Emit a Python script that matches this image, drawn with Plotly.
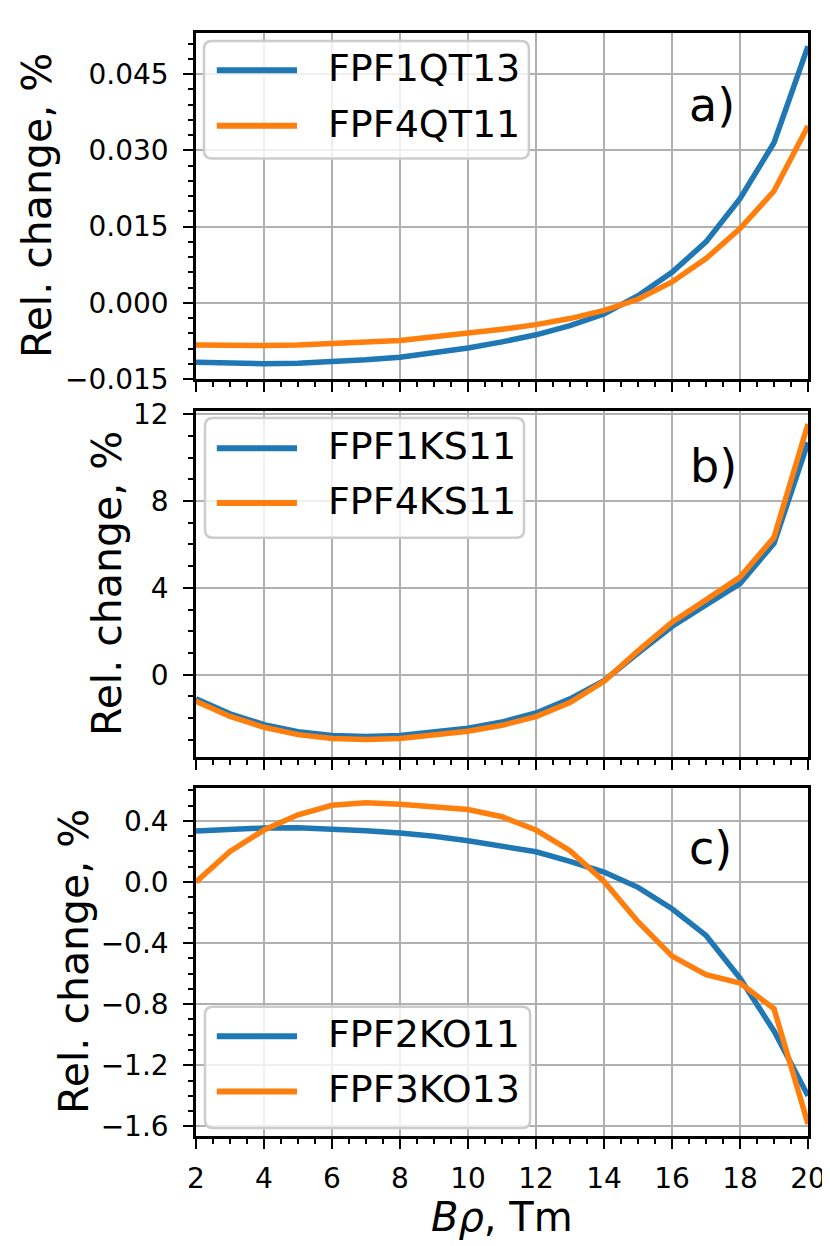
import plotly.graph_objects as go
from plotly.subplots import make_subplots

b_rho = [2, 3, 4, 5, 6, 7, 8, 9, 10, 11, 12, 13, 14, 15, 16, 17, 18, 19, 20]

# a) quadrupoles
fpf1qt13 = [-0.0117, -0.0119, -0.0120, -0.0119, -0.0116, -0.0112, -0.0107, -0.0099, -0.0089,
            -0.0077, -0.0063, -0.0045, -0.0022, 0.0014, 0.0060, 0.0120, 0.0205, 0.0315, 0.0505]
fpf4qt11 = [-0.0083, -0.0084, -0.0084, -0.0083, -0.0080, -0.0077, -0.0074, -0.0067, -0.0060,
            -0.0052, -0.0043, -0.0031, -0.0015, 0.0007, 0.0041, 0.0087, 0.0146, 0.0220, 0.0348]

# b) sextupoles
fpf1ks11 = [-1.11, -1.80, -2.30, -2.62, -2.80, -2.84, -2.80, -2.66, -2.46,
            -2.18, -1.76, -1.11, -0.27, 1.00, 2.22, 3.22, 4.20, 6.05, 10.7]
fpf4ks11 = [-1.22, -1.92, -2.42, -2.76, -2.94, -2.98, -2.94, -2.80, -2.60,
            -2.33, -1.93, -1.28, -0.30, 1.10, 2.42, 3.45, 4.50, 6.33, 11.55]

# c) octupoles
fpf2ko11 = [0.333, 0.346, 0.354, 0.355, 0.347, 0.336, 0.320, 0.300, 0.270,
            0.236, 0.198, 0.135, 0.065, -0.035, -0.175, -0.350, -0.630, -0.975, -1.40]
fpf3ko13 = [0.0, 0.200, 0.340, 0.440, 0.502, 0.518, 0.509, 0.494, 0.474,
            0.427, 0.340, 0.205, 0.003, -0.260, -0.485, -0.607, -0.661, -0.830, -1.585]

panels = [
    (["FPF1QT13", "FPF4QT11"], [fpf1qt13, fpf4qt11], "a)"),
    (["FPF1KS11", "FPF4KS11"], [fpf1ks11, fpf4ks11], "b)"),
    (["FPF2KO11", "FPF3KO13"], [fpf2ko11, fpf3ko13], "c)"),
]
colors = ["#1f77b4", "#ff7f0e"]
FONT = "DejaVu Sans"

fig = make_subplots(rows=3, cols=1, shared_xaxes=True)

for i, (names, series, label) in enumerate(panels):
    for name, vals, col in zip(names, series, colors):
        fig.add_trace(go.Scatter(x=b_rho, y=vals, name=name, mode="lines",
                                 line=dict(color=col, width=5.5), showlegend=False),
                      row=i + 1, col=1)

# domains in paper units (plot area 188..800 x 22..1128 px)
ydomains = [[0.6863, 1.0], [0.3436, 0.6573], [0.0, 0.3156]]
yranges = [[-0.0150, 0.0531], [-3.79, 12.15], [-1.663, 0.616]]
ydticks = [0.015, 4, 0.4]
yminor = [0.003, 1, 0.1]
yformats = [".3f", "d", ".1f"]
ytitle_shift = [-159, -89, -122]

axis_common = dict(showline=True, linecolor="black", linewidth=2.5, mirror=True,
                   showgrid=True, gridcolor="#b0b0b0", gridwidth=2, zeroline=False,
                   ticks="outside", ticklen=10, tickwidth=2, tickcolor="black",
                   tickfont=dict(family=FONT, size=28, color="black"))

for i in range(3):
    s = "" if i == 0 else str(i + 1)
    fig.layout["yaxis" + s].update(
        domain=ydomains[i], range=yranges[i], tick0=0, dtick=ydticks[i],
        tickformat=yformats[i], ticklabelstandoff=9,
        minor=dict(dtick=yminor[i], tick0=0, ticks="outside", ticklen=5, tickwidth=2,
                   tickcolor="black", showgrid=False),
        **axis_common)
    fig.layout["xaxis" + s].update(
        range=[2, 20], tick0=2, dtick=2, ticklabelstandoff=6,
        minor=dict(dtick=0.5, ticks="outside", ticklen=5, tickwidth=2,
                   tickcolor="black", showgrid=False),
        **axis_common)

    # y title
    fig.add_annotation(text="Rel. change, %", textangle=-90, xref="paper", x=0,
                       xshift=ytitle_shift[i], xanchor="center",
                       yref="y%s domain" % s, y=0.5, yanchor="middle", showarrow=False,
                       font=dict(family=FONT, size=41, color="black"))

fig.update_xaxes(showticklabels=False, row=1, col=1)
fig.update_xaxes(showticklabels=False, row=2, col=1)

# legend boxes and panel labels, placed in axis-domain units
leg_boxes = [(0.013, 0.544, 0.637, 0.977), (0.0147, 0.536, 0.634, 0.980),
             (0.0147, 0.546, 0.023, 0.371)]
leg_rows = [(0.8925, 0.732), (0.8925, 0.734), (0.2865, 0.128)]
label_pos = [(0.843, 0.7925), (0.845, 0.8415), (0.840, 0.8276)]

for i, (names, series, label) in enumerate(panels):
    s = "" if i == 0 else str(i + 1)
    xr, yr = "x%s domain" % s, "y%s domain" % s
    x0, x1, y0, y1 = leg_boxes[i]
    rx, ry = 8 / 612, 8 / 347
    path = ("M %f,%f L %f,%f Q %f,%f %f,%f L %f,%f Q %f,%f %f,%f L %f,%f Q %f,%f %f,%f "
            "L %f,%f Q %f,%f %f,%f Z") % (
        x0 + rx, y0, x1 - rx, y0, x1, y0, x1, y0 + ry,
        x1, y1 - ry, x1, y1, x1 - rx, y1,
        x0 + rx, y1, x0, y1, x0, y1 - ry,
        x0, y0 + ry, x0, y0, x0 + rx, y0)
    fig.add_shape(type="path", path=path, xref=xr, yref=yr,
                  line=dict(color="#cccccc", width=2.5), fillcolor="rgba(255,255,255,0.8)",
                  layer="above")
    for name, col, yy in zip(names, colors, leg_rows[i]):
        fig.add_shape(type="line", xref=xr, yref=yr, x0=0.034, x1=0.165, y0=yy, y1=yy,
                      line=dict(color=col, width=6), layer="above")
        fig.add_annotation(text=name, xref=xr, yref=yr, x=0.212, y=yy, xanchor="left",
                           yanchor="middle", yshift=2, showarrow=False,
                           font=dict(family=FONT, size=38, color="black"))
    lx, ly = label_pos[i]
    fig.add_annotation(text=label, xref=xr, yref=yr, x=lx, y=ly, xanchor="center",
                       yanchor="middle", showarrow=False,
                       font=dict(family=FONT, size=46, color="black"))

fig.add_annotation(text="<i>B\u03c1</i>, Tm", xref="paper", x=0.5, xanchor="center",
                   yref="paper", y=0, yshift=-81, yanchor="middle", showarrow=False,
                   font=dict(family=FONT, size=40, color="black"))

fig.update_layout(width=830, height=1246, margin=dict(l=188, r=30, t=22, b=118),
                  plot_bgcolor="white", paper_bgcolor="white", showlegend=False)

fig.write_html("out.html")
